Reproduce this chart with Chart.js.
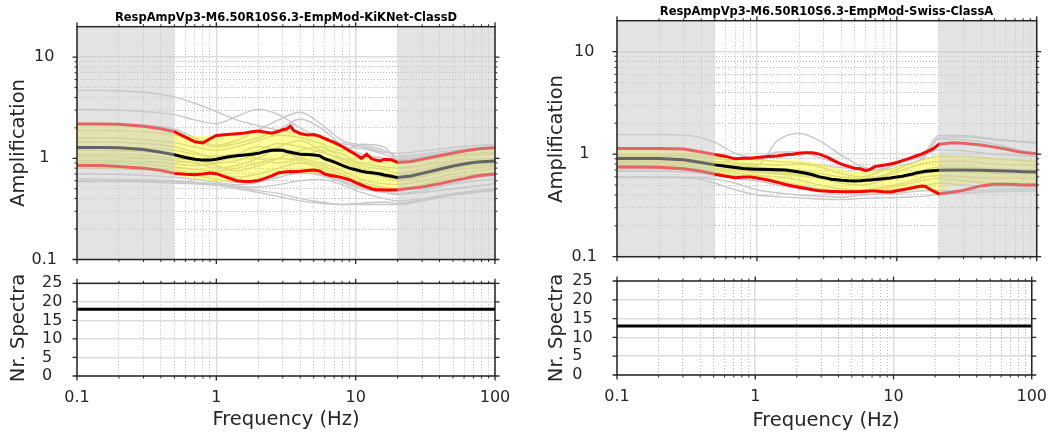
<!DOCTYPE html>
<html lang="en">
<head>
<meta charset="utf-8">
<title>Response amplification</title>
<script src="https://cdn.jsdelivr.net/npm/chart.js@4.4.1/dist/chart.umd.min.js"></script>
<style>
  html, body { margin: 0; padding: 0; background: #ffffff; }
  #fig { position: relative; width: 1059px; height: 433px; overflow: hidden;
         font-family: "DejaVu Sans", sans-serif; color: #262626; }
  #fig canvas { position: absolute; }
  .txt { position: absolute; white-space: nowrap; line-height: 1; transform: translate(-50%, -50%); }
  .rot { transform: translate(-50%, -50%) rotate(-90deg); }
  .title { font-size: 11.5px; font-weight: bold; color: #000; }
  .axis { font-size: 19.5px; }
</style>
</head>
<body>
<div id="fig">
  <canvas id="kikAmp" width="530" height="305" style="left:0;top:-12px"></canvas>
  <canvas id="swsAmp" width="529" height="305" style="left:530px;top:-12px"></canvas>
  <canvas id="kikCount" width="530" height="183" style="left:0;top:250px"></canvas>
  <canvas id="swsCount" width="529" height="183" style="left:530px;top:250px"></canvas>

  <div class="txt title" style="left:286px;top:18px">RespAmpVp3-M6.50R10S6.3-EmpMod-KiKNet-ClassD</div>
  <div class="txt title" style="left:826.5px;top:11.5px">RespAmpVp3-M6.50R10S6.3-EmpMod-Swiss-ClassA</div>
  <div class="txt axis rot" style="left:17.5px;top:143px">Amplification</div>
  <div class="txt axis rot" style="left:555.5px;top:139px">Amplification</div>
  <div class="txt axis rot" style="left:17.5px;top:328px">Nr. Spectra</div>
  <div class="txt axis rot" style="left:555.5px;top:327.5px">Nr. Spectra</div>
  <div class="txt axis" style="left:286px;top:419px">Frequency (Hz)</div>
  <div class="txt axis" style="left:826px;top:420px">Frequency (Hz)</div>
</div>
<script>
// ---- frequency samples (Hz) ----
const FREQ = [0.1, 0.15, 0.2, 0.3, 0.4, 0.5, 0.6, 0.7, 0.8, 0.9, 1, 1.2, 1.4, 1.6, 1.8, 2, 2.2, 2.5, 2.8, 3,
  3.2, 3.4, 3.6, 4, 4.5, 5, 5.5, 6, 6.5, 7, 8, 9, 10, 11, 12, 13, 14, 15, 16, 18, 20, 25, 30, 40, 50, 60, 70, 80, 100];
const GREY_F = [0.1, 0.2, 0.35, 0.5, 0.7, 1, 1.4, 2, 2.8, 4, 5.6, 8, 11, 16, 20, 30, 50, 100];
const COUNT_F = [0.1, 100];

// ---- axis ticks ----
const FREQ_MAJOR = [0.1, 1, 10, 100];
const FREQ_LABELS = ['0.1', '1', '10', '100'];
const FREQ_MINOR = [0.2, 0.3, 0.4, 0.5, 0.6, 0.7, 0.8, 0.9, 2, 3, 4, 5, 6, 7, 8, 9, 20, 30, 40, 50, 60, 70, 80, 90];
const AMP_MAJOR = [0.1, 1, 10];
const AMP_LABELS = ['0.1', '1', '10'];
const AMP_MINOR = [0.2, 0.3, 0.4, 0.5, 0.6, 0.7, 0.8, 0.9, 2, 3, 4, 5, 6, 7, 8, 9];
const COUNT_TICKS = [0, 5, 10, 15, 20, 25];
const AMP_RANGE = [0.1, 20];
const FREQ_RANGE = [0.1, 100];
const COUNT_RANGE = [0, 25];

// frequency bands outside the usable range
const SHADE_BANDS = [[0.1, 0.5], [20, 100]];

// ---- KiKNet class D ----
const kikMedian = [1.28, 1.28, 1.275, 1.22, 1.15, 1.085, 1.02, 0.98, 0.96, 0.96, 0.98, 1.03, 1.06, 1.08, 1.10, 1.12,
  1.16, 1.20, 1.21, 1.20, 1.17, 1.15, 1.13, 1.10, 1.09, 1.08, 1.06, 0.99, 0.955, 0.92, 0.85, 0.80, 0.77, 0.745,
  0.73, 0.72, 0.71, 0.70, 0.685, 0.665, 0.645, 0.67, 0.71, 0.78, 0.84, 0.88, 0.91, 0.925, 0.94];
const kikUpper = [2.18, 2.18, 2.17, 2.08, 1.96, 1.83, 1.62, 1.46, 1.42, 1.56, 1.68, 1.72, 1.75, 1.78, 1.83, 1.86,
  1.82, 1.77, 1.85, 1.92, 1.95, 2.08, 1.88, 1.76, 1.70, 1.72, 1.66, 1.57, 1.50, 1.44, 1.31, 1.19, 1.09, 1.00,
  1.10, 0.99, 0.96, 0.94, 0.98, 0.97, 0.91, 0.93, 0.98, 1.06, 1.13, 1.18, 1.22, 1.25, 1.27];
const kikLower = [0.85, 0.85, 0.83, 0.80, 0.76, 0.71, 0.695, 0.69, 0.70, 0.715, 0.705, 0.645, 0.60, 0.59, 0.595,
  0.605, 0.63, 0.67, 0.72, 0.73, 0.735, 0.74, 0.735, 0.745, 0.76, 0.765, 0.75, 0.70, 0.68, 0.67, 0.645, 0.615,
  0.575, 0.545, 0.52, 0.50, 0.49, 0.488, 0.487, 0.487, 0.49, 0.505, 0.52, 0.56, 0.60, 0.63, 0.66, 0.68, 0.70];
const kikBandTop = [2.18, 2.18, 2.17, 2.08, 1.96, 1.83, 1.70, 1.66, 1.64, 1.65, 1.68, 1.72, 1.75, 1.78, 1.83,
  1.86, 1.86, 1.85, 1.87, 1.90, 1.92, 1.93, 1.88, 1.76, 1.70, 1.70, 1.65, 1.56, 1.49, 1.43, 1.30, 1.18, 1.08,
  1.00, 1.02, 0.98, 0.95, 0.93, 0.95, 0.95, 0.91, 0.93, 0.98, 1.06, 1.13, 1.18, 1.22, 1.25, 1.27];
const kikBandBottom = [0.79, 0.79, 0.78, 0.75, 0.72, 0.68, 0.655, 0.63, 0.61, 0.60, 0.595, 0.59, 0.59, 0.59,
  0.595, 0.60, 0.62, 0.65, 0.68, 0.69, 0.70, 0.70, 0.70, 0.705, 0.71, 0.71, 0.70, 0.68, 0.665, 0.65, 0.62, 0.59,
  0.56, 0.535, 0.515, 0.50, 0.49, 0.48, 0.475, 0.47, 0.47, 0.49, 0.51, 0.55, 0.59, 0.62, 0.65, 0.67, 0.69];
const kikRecords = [
  [4.7, 4.65, 4.4, 4.05, 3.5, 2.9, 2.4, 2.1, 1.9, 1.75, 1.6, 1.4, 1.3, 1.15, 1.12, 1.18, 1.28, 1.38],
  [3.05, 3.0, 2.85, 2.7, 2.4, 2.2, 2.6, 3.05, 2.7, 2.0, 1.6, 1.3, 1.25, 1.1, 1.0, 1.05, 1.15, 1.25],
  [2.2, 2.18, 2.1, 1.95, 1.6, 1.35, 1.5, 1.9, 2.4, 2.85, 2.2, 1.5, 1.35, 1.2, 1.05, 1.1, 1.2, 1.3],
  [1.9, 1.88, 1.8, 1.7, 1.5, 1.3, 1.4, 1.6, 1.9, 2.45, 2.0, 1.35, 1.1, 1.0, 0.95, 1.0, 1.08, 1.15],
  [1.6, 1.58, 1.5, 1.42, 1.3, 1.2, 1.3, 1.5, 1.7, 1.6, 1.4, 1.2, 1.38, 1.3, 0.98, 1.0, 1.05, 1.1],
  [1.45, 1.44, 1.38, 1.3, 1.15, 1.0, 1.05, 1.2, 1.4, 1.3, 1.15, 1.0, 0.9, 0.82, 0.8, 0.85, 0.95, 1.0],
  [1.3, 1.29, 1.25, 1.2, 1.1, 1.05, 1.1, 1.0, 0.9, 1.0, 1.2, 1.1, 0.85, 0.78, 0.72, 0.78, 0.9, 0.95],
  [1.2, 1.19, 1.15, 1.1, 1.0, 0.9, 0.95, 1.1, 1.2, 1.15, 1.05, 0.85, 0.75, 0.7, 0.68, 0.75, 0.85, 0.9],
  [1.1, 1.1, 1.06, 1.0, 0.95, 0.85, 0.75, 0.85, 1.0, 1.2, 1.3, 1.0, 0.8, 0.7, 0.62, 0.68, 0.8, 0.88],
  [1.05, 1.04, 1.0, 0.95, 0.9, 0.8, 0.85, 1.0, 1.3, 1.5, 1.2, 0.95, 0.75, 0.65, 0.6, 0.66, 0.76, 0.84],
  [0.95, 0.94, 0.92, 0.88, 0.85, 0.9, 1.1, 1.3, 1.2, 1.0, 0.9, 0.75, 0.62, 0.56, 0.55, 0.6, 0.7, 0.78],
  [0.9, 0.9, 0.86, 0.82, 0.78, 0.75, 0.8, 0.9, 1.0, 0.95, 0.85, 0.7, 0.58, 0.52, 0.5, 0.55, 0.65, 0.72],
  [0.85, 0.84, 0.8, 0.76, 0.72, 0.7, 0.65, 0.7, 0.8, 0.9, 0.8, 0.65, 0.55, 0.5, 0.48, 0.52, 0.6, 0.68],
  [0.8, 0.79, 0.76, 0.72, 0.68, 0.62, 0.58, 0.6, 0.7, 0.75, 0.7, 0.6, 0.52, 0.48, 0.45, 0.48, 0.56, 0.63],
  [0.7, 0.69, 0.67, 0.65, 0.62, 0.58, 0.55, 0.58, 0.65, 0.72, 0.68, 0.58, 0.5, 0.46, 0.44, 0.46, 0.5, 0.56],
  [0.63, 0.62, 0.61, 0.6, 0.58, 0.56, 0.53, 0.52, 0.55, 0.6, 0.62, 0.55, 0.46, 0.4, 0.38, 0.4, 0.45, 0.5],
  [0.6, 0.6, 0.59, 0.58, 0.57, 0.55, 0.52, 0.48, 0.45, 0.4, 0.37, 0.35, 0.35, 0.35, 0.35, 0.38, 0.43, 0.48],
  [0.59, 0.59, 0.58, 0.57, 0.56, 0.54, 0.5, 0.46, 0.42, 0.38, 0.36, 0.35, 0.36, 0.37, 0.36, 0.39, 0.44, 0.49]
];
const kikCount = [18, 18];

// ---- Swiss class A ----
const swsMedian = [0.907, 0.907, 0.905, 0.88, 0.83, 0.786, 0.76, 0.74, 0.725, 0.718, 0.713, 0.708, 0.705, 0.70,
  0.685, 0.67, 0.655, 0.63, 0.60, 0.59, 0.58, 0.57, 0.565, 0.555, 0.55, 0.548, 0.55, 0.555, 0.56, 0.565, 0.575,
  0.585, 0.60, 0.61, 0.625, 0.64, 0.66, 0.67, 0.68, 0.69, 0.697, 0.70, 0.70, 0.695, 0.69, 0.685, 0.68, 0.675, 0.67];
const swsUpper = [1.136, 1.136, 1.135, 1.12, 1.05, 0.99, 0.95, 0.90, 0.91, 0.91, 0.925, 0.95, 0.96, 0.985, 1.00,
  1.02, 1.03, 1.03, 1.00, 0.96, 0.93, 0.89, 0.855, 0.80, 0.76, 0.73, 0.72, 0.69, 0.715, 0.76, 0.78, 0.80, 0.83,
  0.865, 0.90, 0.935, 0.97, 1.0, 1.04, 1.12, 1.25, 1.29, 1.28, 1.23, 1.17, 1.12, 1.07, 1.04, 1.01];
const swsLower = [0.75, 0.75, 0.745, 0.72, 0.68, 0.637, 0.61, 0.59, 0.60, 0.60, 0.585, 0.56, 0.53, 0.505, 0.49,
  0.475, 0.465, 0.45, 0.44, 0.437, 0.435, 0.433, 0.432, 0.43, 0.43, 0.43, 0.432, 0.435, 0.438, 0.436, 0.43, 0.428,
  0.44, 0.45, 0.46, 0.47, 0.48, 0.488, 0.485, 0.44, 0.41, 0.425, 0.445, 0.49, 0.51, 0.51, 0.505, 0.50, 0.50];
const swsBandTop = [1.10, 1.10, 1.10, 1.09, 1.04, 0.99, 0.93, 0.89, 0.88, 0.88, 0.88, 0.88, 0.88, 0.88, 0.875,
  0.87, 0.86, 0.84, 0.81, 0.79, 0.77, 0.75, 0.74, 0.71, 0.69, 0.68, 0.675, 0.675, 0.68, 0.69, 0.71, 0.73, 0.76,
  0.78, 0.80, 0.83, 0.85, 0.88, 0.90, 0.95, 1.0, 0.98, 0.97, 0.95, 0.93, 0.92, 0.91, 0.90, 0.89];
const swsBandBottom = [0.73, 0.73, 0.725, 0.70, 0.67, 0.64, 0.62, 0.60, 0.59, 0.58, 0.57, 0.555, 0.54, 0.525,
  0.51, 0.50, 0.49, 0.475, 0.46, 0.455, 0.45, 0.447, 0.445, 0.44, 0.437, 0.435, 0.435, 0.435, 0.435, 0.435, 0.435,
  0.435, 0.437, 0.44, 0.44, 0.443, 0.445, 0.447, 0.45, 0.44, 0.42, 0.50, 0.51, 0.52, 0.52, 0.52, 0.515, 0.51, 0.51];
const swsRecords = [
  [1.55, 1.55, 1.5, 1.3, 1.02, 0.9, 0.85, 0.82, 0.78, 0.74, 0.72, 0.76, 0.85, 1.05, 1.52, 1.52, 1.4, 1.3],
  [0.98, 0.98, 0.97, 0.93, 0.82, 0.78, 1.35, 1.6, 1.35, 0.98, 0.76, 0.7, 0.78, 0.95, 1.45, 1.47, 1.38, 1.28],
  [0.95, 0.95, 0.93, 0.9, 0.88, 0.9, 1.05, 1.05, 0.92, 0.8, 0.7, 0.72, 0.85, 0.98, 1.4, 1.38, 1.25, 1.0],
  [0.9, 0.9, 0.88, 0.85, 0.82, 0.8, 0.78, 0.8, 0.75, 0.65, 0.6, 0.7, 0.85, 1.0, 1.1, 1.08, 1.0, 0.95],
  [0.88, 0.88, 0.86, 0.82, 0.78, 0.75, 0.72, 0.7, 0.65, 0.6, 0.58, 0.62, 0.75, 0.9, 0.95, 0.95, 0.9, 0.85],
  [0.85, 0.85, 0.83, 0.8, 0.75, 0.7, 0.68, 0.66, 0.62, 0.55, 0.55, 0.6, 0.7, 0.82, 0.85, 0.85, 0.8, 0.78],
  [0.82, 0.82, 0.8, 0.77, 0.72, 0.68, 0.66, 0.64, 0.6, 0.57, 0.56, 0.58, 0.62, 0.7, 0.75, 0.75, 0.72, 0.7],
  [0.78, 0.78, 0.76, 0.73, 0.7, 0.66, 0.64, 0.62, 0.58, 0.52, 0.5, 0.55, 0.6, 0.65, 0.68, 0.67, 0.65, 0.64],
  [0.75, 0.75, 0.73, 0.7, 0.66, 0.62, 0.6, 0.56, 0.5, 0.46, 0.45, 0.48, 0.52, 0.6, 0.62, 0.6, 0.58, 0.58],
  [0.72, 0.72, 0.7, 0.67, 0.62, 0.58, 0.55, 0.5, 0.46, 0.44, 0.44, 0.46, 0.5, 0.56, 0.58, 0.55, 0.52, 0.52],
  [0.68, 0.68, 0.66, 0.63, 0.58, 0.55, 0.5, 0.46, 0.44, 0.43, 0.43, 0.44, 0.46, 0.5, 0.52, 0.5, 0.48, 0.48],
  [0.6, 0.6, 0.59, 0.57, 0.52, 0.45, 0.42, 0.4, 0.39, 0.38, 0.4, 0.41, 0.42, 0.44, 0.44, 0.44, 0.45, 0.46],
  [0.59, 0.59, 0.58, 0.52, 0.45, 0.40, 0.385, 0.375, 0.365, 0.36, 0.37, 0.375, 0.38, 0.39, 0.41, 0.42, 0.43, 0.44]
];
const swsCount = [13, 13];

// ---- styling ----
const INK = '#262626';
const TICK_FONT = { family: 'DejaVu Sans', size: 16 };
const BAND_FILL = 'rgba(255, 255, 0, 0.4)';
const SHADE_FILL = 'rgba(200, 200, 200, 0.5)';
const RECORD_COLOR = '#c8c8c8';

Chart.defaults.font.family = 'DejaVu Sans';
Chart.defaults.animation = false;

function pts(xs, ys) { return xs.map((x, i) => ({ x: x, y: ys[i] })); }
function fixedTicks(values) { return scale => { scale.ticks = values.map(v => ({ value: v })); }; }
function fixSize(dim, size) { return scale => { scale[dim] = size; }; }

function line(xs, ys, color, width, order) {
  return { data: pts(xs, ys), borderColor: color, borderWidth: width, order: order,
           pointRadius: 0, pointHitRadius: 0, fill: false, tension: 0, xAxisID: 'x', yAxisID: 'y' };
}

const majorGrid = () => ({ color: '#dcdcdc', lineWidth: 1.5, drawTicks: false });
const minorGrid = () => ({ color: '#bdbdbd', lineWidth: 1, drawTicks: false, borderDash: [1, 2] });
const noBorder = () => ({ display: false });
const dotBorder = () => ({ display: false, dash: [1, 2] });

// minor axis sharing range with its major partner, used for dotted grid lines
function minorAxis(axis, position, type, range, values) {
  return { type: type, axis: axis, position: position, min: range[0], max: range[1],
           afterBuildTicks: fixedTicks(values),
           afterFit: fixSize(axis === 'x' ? 'height' : 'width', 0),
           ticks: { display: false, autoSkip: false },
           grid: minorGrid(), border: dotBorder() };
}

// tick marks on all four sides plus the axes frame
const framePlugin = {
  id: 'frame',
  afterDraw(chart) {
    const ctx = chart.ctx, a = chart.chartArea;
    ctx.save();
    ctx.strokeStyle = INK;
    for (const sc of Object.values(chart.scales)) {
      const minor = sc.id.endsWith('m');
      const len = minor ? 2.5 : 4.5;
      ctx.lineWidth = minor ? 1 : 1.3;
      ctx.beginPath();
      for (const t of sc.ticks) {
        const p = sc.getPixelForValue(t.value);
        if (sc.isHorizontal()) {
          ctx.moveTo(p, a.bottom); ctx.lineTo(p, a.bottom + len);
          ctx.moveTo(p, a.top); ctx.lineTo(p, a.top - len);
        } else {
          ctx.moveTo(a.left - len, p); ctx.lineTo(a.left, p);
          ctx.moveTo(a.right, p); ctx.lineTo(a.right + len, p);
        }
      }
      ctx.stroke();
    }
    ctx.lineWidth = 1.5;
    ctx.strokeRect(a.left, a.top, a.right - a.left, a.bottom - a.top);
    ctx.restore();
  }
};

// translucent grey over the frequency bands outside the usable range
const shadePlugin = {
  id: 'shade',
  afterDatasetsDraw(chart, args, opts) {
    const bands = opts.bands || [];
    const ctx = chart.ctx, a = chart.chartArea, xs = chart.scales.x;
    ctx.save();
    ctx.fillStyle = SHADE_FILL;
    for (const b of bands) {
      const x1 = xs.getPixelForValue(b[0]), x2 = xs.getPixelForValue(b[1]);
      ctx.fillRect(x1, a.top, x2 - x1, a.bottom - a.top);
    }
    ctx.restore();
  }
};

function baseOptions(pad, scales, extraPlugins) {
  return {
    responsive: false, animation: false, events: [],
    layout: { padding: pad },
    plugins: Object.assign({ legend: { display: false }, tooltip: { enabled: false }, title: { display: false } }, extraPlugins || {}),
    scales: scales
  };
}

function buildAmp(id, geo, s) {
  const datasets = [
    line(FREQ, s.median, '#000000', 3, 0),
    line(FREQ, s.upper, '#ff0000', 3, 1),
    line(FREQ, s.lower, '#ff0000', 3, 1),
    Object.assign(line(FREQ, s.bandTop, 'rgba(0,0,0,0)', 0, 2), { fill: '+1', backgroundColor: BAND_FILL }),
    line(FREQ, s.bandBottom, 'rgba(0,0,0,0)', 0, 2)
  ];
  s.records.forEach(r => datasets.push(Object.assign(line(GREY_F, r, RECORD_COLOR, 1.4, 3),
    { tension: 0.4, cubicInterpolationMode: 'monotone' })));

  const scales = {
    x: { type: 'logarithmic', axis: 'x', position: 'bottom', min: FREQ_RANGE[0], max: FREQ_RANGE[1],
         afterBuildTicks: fixedTicks(FREQ_MAJOR), afterFit: fixSize('height', 0),
         ticks: { display: false, autoSkip: false }, grid: majorGrid(), border: noBorder() },
    xm: minorAxis('x', 'bottom', 'logarithmic', FREQ_RANGE, FREQ_MINOR),
    y: { type: 'logarithmic', axis: 'y', position: 'left', min: AMP_RANGE[0], max: AMP_RANGE[1],
         afterBuildTicks: fixedTicks(AMP_MAJOR), afterFit: fixSize('width', geo.yWidth),
         ticks: { font: TICK_FONT, color: INK, crossAlign: 'center', padding: geo.tickPad, autoSkip: false,
                  callback: v => AMP_LABELS[AMP_MAJOR.indexOf(v)] },
         grid: majorGrid(), border: noBorder() },
    ym: minorAxis('y', 'left', 'logarithmic', AMP_RANGE, AMP_MINOR)
  };
  return new Chart(document.getElementById(id), {
    type: 'line',
    data: { datasets: datasets },
    options: baseOptions(geo.pad, scales, { shade: { bands: SHADE_BANDS } }),
    plugins: [shadePlugin, framePlugin]
  });
}

function buildCount(id, geo, counts) {
  const scales = {
    x: { type: 'logarithmic', axis: 'x', position: 'bottom', min: FREQ_RANGE[0], max: FREQ_RANGE[1],
         afterBuildTicks: fixedTicks(FREQ_MAJOR), afterFit: fixSize('height', geo.xHeight),
         ticks: { font: TICK_FONT, color: INK, padding: geo.xPad, autoSkip: false, maxRotation: 0,
                  callback: v => FREQ_LABELS[FREQ_MAJOR.indexOf(v)] },
         grid: majorGrid(), border: noBorder() },
    xm: minorAxis('x', 'bottom', 'logarithmic', FREQ_RANGE, FREQ_MINOR),
    y: { type: 'linear', axis: 'y', position: 'left', min: COUNT_RANGE[0], max: COUNT_RANGE[1],
         afterBuildTicks: fixedTicks(COUNT_TICKS), afterFit: fixSize('width', geo.yWidth),
         ticks: { font: TICK_FONT, color: INK, crossAlign: 'far', autoSkip: false,
                  callback: v => String(v) },
         grid: majorGrid(), border: noBorder() }
  };
  return new Chart(document.getElementById(id), {
    type: 'line',
    data: { datasets: [line(COUNT_F, counts, '#000000', 3, 0)] },
    options: baseOptions(geo.pad, scales),
    plugins: [framePlugin]
  });
}

// canvases extend past the plot edges so label padding never shrinks the plot area
buildAmp('kikAmp', { pad: { left: 10, top: 38.7, right: 35, bottom: 33.5 }, yWidth: 67, tickPad: 20 }, {
  median: kikMedian, upper: kikUpper, lower: kikLower,
  bandTop: kikBandTop, bandBottom: kikBandBottom, records: kikRecords
});
buildAmp('swsAmp', { pad: { left: 10, top: 32.7, right: 22.3, bottom: 36.3 }, yWidth: 77, tickPad: 20 }, {
  median: swsMedian, upper: swsUpper, lower: swsLower,
  bandTop: swsBandTop, bandBottom: swsBandBottom, records: swsRecords
});
buildCount('kikCount', { pad: { left: 42, top: 33.3, right: 35, bottom: 17 }, yWidth: 35, xHeight: 40, xPad: 12 }, kikCount);
buildCount('swsCount', { pad: { left: 42.3, top: 31, right: 22.3, bottom: 18 }, yWidth: 44.7, xHeight: 40, xPad: 12 }, swsCount);
</script>
</body>
</html>
